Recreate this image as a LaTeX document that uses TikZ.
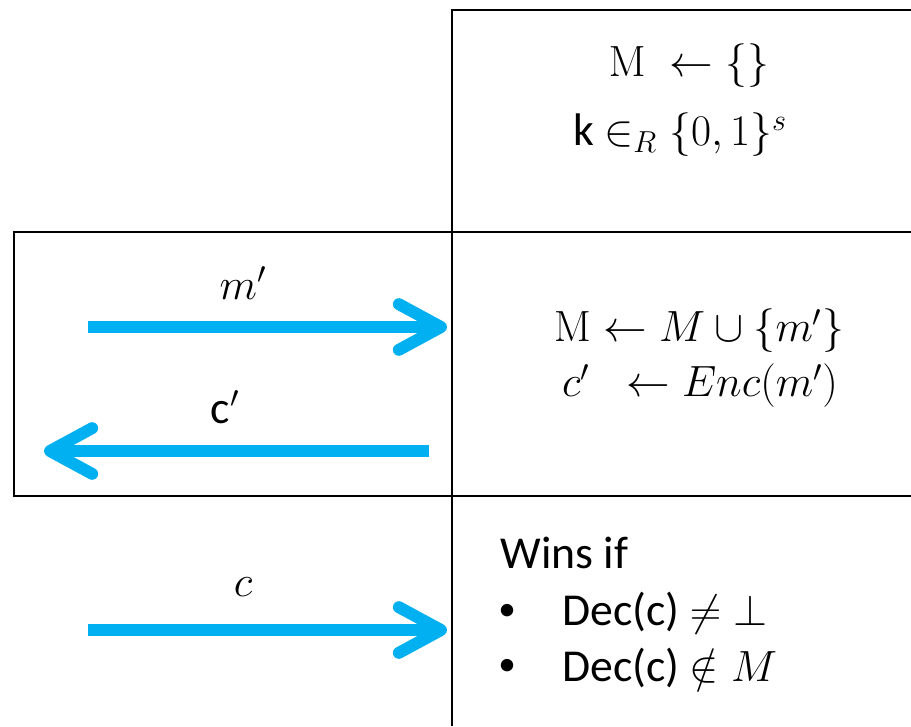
\documentclass[tikz,border=0pt]{standalone}
\usepackage{amsmath,amssymb}
\usepackage[no-math]{fontspec}
\setmainfont{Carlito}
\usepackage{xcolor}
\usetikzlibrary{arrows.meta}

\definecolor{msgblue}{HTML}{00B0F0}

\begin{document}
\begin{tikzpicture}[x=0.02cm, y=-0.02cm,
    rule/.style={line width=1.2pt},
    msg/.style={draw=msgblue, line width=6.8pt,
                -{Straight Barb[length=24pt, width=26pt, line cap=round, line join=round]}},
    txt/.style={font=\fontsize{26}{31}\selectfont, inner sep=0pt},
    dot/.style={font=\fontsize{20}{24}\selectfont, inner sep=0pt},
    lbl/.style={txt}
  ]
  \useasboundingbox (0,0) rectangle (911,726);

  % Grid of the game: challenger column on the right.
  \coordinate (colTop) at (452,10);
  \coordinate (colBot) at (452,726);
  \coordinate (topR)   at (911,10);
  \coordinate (midL)   at (14,232);
  \coordinate (midR)   at (911,232);
  \coordinate (lowL)   at (14,496);
  \coordinate (lowR)   at (911,496);
  \draw[rule] (colBot) -- (colTop) -- (topR);
  \draw[rule] (midR) -- (midL) -- (lowL) -- (lowR);

  % Set-up
  \node[txt] (init1) at (689,66)  {$\mathrm{M}\;\leftarrow\{\}$};
  \node[txt] (init2) at (680,135) {k $\in_R\{0,1\}^s$};

  % Encryption queries
  \coordinate (mA) at (88,327);
  \coordinate (mB) at (447,327);
  \coordinate (cA) at (429,451);
  \coordinate (cB) at (44,451);
  \draw[msg] (mA) -- (mB);
  \draw[msg] (cA) -- (cB);
  \node[lbl] (mlbl) at (243,283) {$m'$};
  \node[lbl] (clbl) at (225,407) {c$'$};
  \node[txt] (upd1) at (699,331) {$\mathrm{M}\leftarrow M\cup\{m'\}$};
  \node[txt] (upd2) at (700,386) {$c'\;\;\leftarrow Enc(m')$};

  % Challenge
  \coordinate (chA) at (88,630);
  \coordinate (chB) at (447,630);
  \draw[msg] (chA) -- (chB);
  \node[lbl] (chlbl) at (243,587) {$c$};
  \node[txt, anchor=west] (wins) at (500,553) {Wins if};
  \node[dot] (b1) at (507,612) {\textbullet};
  \node[txt, anchor=west] (cond1) at (562,613) {Dec(c) $\neq\bot$};
  \node[dot] (b2) at (507,667) {\textbullet};
  \node[txt, anchor=west] (cond2) at (562,668) {Dec(c) $\notin M$};
\end{tikzpicture}
\end{document}
